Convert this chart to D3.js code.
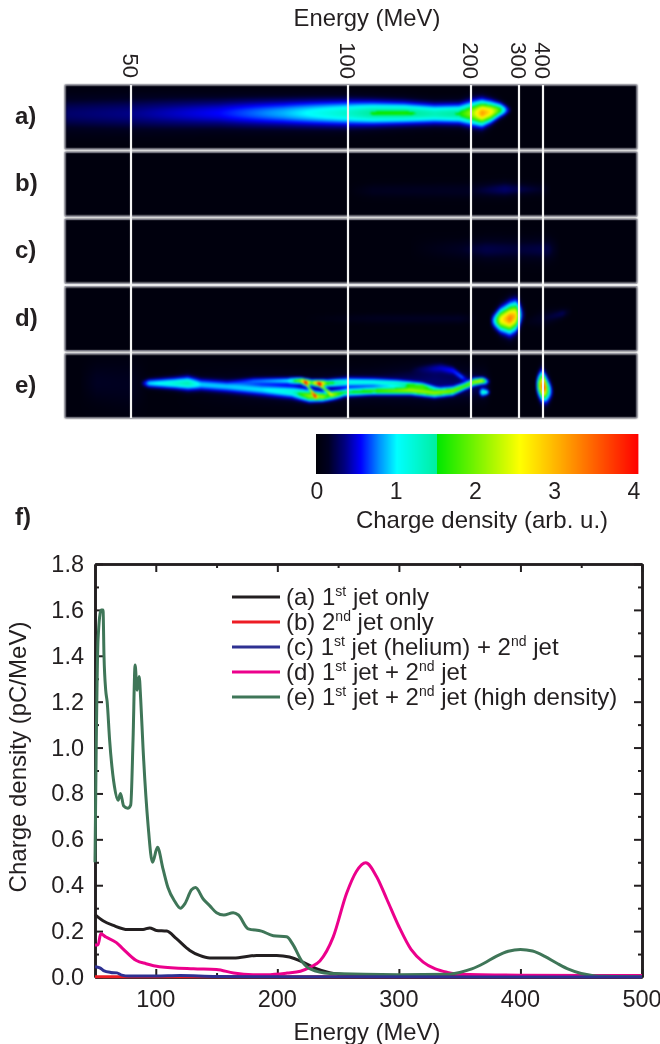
<!DOCTYPE html>
<html>
<head>
<meta charset="utf-8">
<script src="https://cdn.jsdelivr.net/npm/d3@7"></script>
<style>
	body { margin: 0; background: #fff; }
	#wrap { position: relative; width: 660px; height: 1044px; overflow: hidden; }
	canvas, svg { position: absolute; left: 0; top: 0; filter: blur(0.5px); }
	text { font-family: "Liberation Sans", Arial, sans-serif; fill: #231f20; }
</style>
</head>
<body>
<div id="wrap"></div>
<script>
// spectrometer energy ticks, the scale is not linear so the ticks set it
const energyTicks = [50, 100, 200, 300, 400];
const panelNames = ['a)', 'b)', 'c)', 'd)', 'e)'];
const colorbarTicks = [0, 1, 2, 3, 4];

// colormap stops, there is a hard step at 1.5
const colorStops = [0, 0.15, 0.35, 0.55, 0.78, 1, 1.5, 1.5, 2.53, 3, 4];
const colorValues = ['#000008', '#000022', '#000080', '#0000ff', '#0090ff', '#00ffff', '#00eea0', '#00e800', '#ffff00', '#ffb000', '#ff0000'];

// streaks on the screens: [energy, height in panel 0-1, spread, level]
const streaksA = [
	[[35, .45, .17, .27], [50, .45, .17, .33], [70, .44, .15, .52], [85, .44, .14, .82], [100, .44, .13, 1.25], [120, .44, .12, 1.5], [145, .44, .11, 1.55], [170, .45, .1, 1.35], [190, .45, .1, 1.5], [205, .44, .12, 2.2], [222, .44, .12, 3.1], [240, .42, .1, 2.6], [260, .39, .07, 1.6], [275, .39, .05, .5], [285, .39, .03, 0]],
];
const streaksB = [
	[[100, .6, .06, 0], [120, .6, .07, .1], [200, .6, .08, .12], [270, .58, .08, .27], [300, .58, .07, .2], [400, .58, .06, .12], [430, .58, .05, 0]],
];
const streaksC = [
	[[150, .45, .1, 0], [190, .47, .1, .12], [230, .47, .12, .2], [300, .47, .12, .17], [420, .47, .12, .2], [470, .47, .1, 0]],
];
const streaksD = [
	[[238, .53, .06, 0], [248, .53, .08, 1], [260, .52, .11, 2.4], [280, .5, .14, 3.3], [292, .46, .14, 2.8], [302, .44, .12, 1.1], [312, .44, .1, .35], [330, .44, .08, 0]],
	[[330, .55, .05, .05], [400, .5, .08, .14], [480, .42, .05, .22], [520, .38, .04, 0]],
	[[90, .5, .04, 0], [120, .5, .05, .1], [190, .5, .05, .13], [215, .5, .05, 0]],
];
const streaksE = [
	// long branch from the low energy end
	[[52, .46, .03, 0], [54, .46, .045, .9], [60, .46, .06, 1.2], [63, .46, .07, 1.35], [66, .48, .06, .85], [72, .51, .06, .8], [80, .56, .06, .8], [87, .6, .06, 1], [91, .66, .055, 1.9], [94, .67, .045, 2], [97, .66, .04, .8], [99, .66, .03, 0]],
	// upper branch with the two hot spots
	[[72, .44, .03, 0], [78, .42, .035, .5], [86, .42, .035, .8], [89, .42, .03, 2], [89.9, .44, .03, 3.6], [91.5, .45, .03, 1.6], [93.1, .46, .03, 3.6], [95, .46, .035, 1.5], [100, .44, .045, .95], [120, .44, .04, .9], [140, .46, .035, 1], [160, .5, .03, 1.3], [175, .55, .02, 0]],
	// the two diagonals between the branches
	[[90, .44, .02, 2.2], [91, .54, .02, 1.7], [92.3, .66, .025, 2.4], [93, .68, .02, 0]],
	[[93, .46, .02, 2], [94.5, .55, .02, 1.7], [96, .63, .025, 1.8]],
	// lower branch up to the end near 220 MeV
	[[96, .63, .03, 1.3], [100, .6, .04, 1.3], [120, .58, .038, 1.5], [150, .57, .04, 1.9], [170, .61, .042, 1.9], [185, .58, .04, 1.8], [195, .5, .035, 1.5], [205, .44, .035, 1.9], [222, .42, .03, 2.2], [232, .43, .03, .6], [240, .43, .02, 0]],
	[[150, .25, .04, 0], [175, .22, .05, .3], [185, .26, .04, .42], [192, .36, .03, .5], [198, .42, .03, 0]],
	[[60, .5, .2, 0], [90, .55, .15, .2], [120, .5, .16, .22], [170, .45, .2, .28], [230, .5, .15, .22], [245, .5, .1, 0]],
	[[215, .6, .03, 0], [222, .6, .04, 1.1], [232, .6, .03, .9], [240, .6, .02, 0]],
	// spot near 400 MeV
	[[366, .48, .08, 0], [378, .49, .11, 1.4], [392, .5, .13, 3.2], [402, .52, .12, 3.9], [415, .56, .12, 1.8], [432, .58, .09, .6], [445, .6, .05, 0]],
	[[38, .45, .2, 0], [42, .45, .2, .12], [50, .5, .25, .1], [54, .5, .2, 0]],
];
const panelStreaks = [streaksA, streaksB, streaksC, streaksD, streaksE];

// line plot (f)
const legendLabels = [
	[['(a) 1'], ['st', 1], [' jet only']],
	[['(b) 2'], ['nd', 1], [' jet only']],
	[['(c) 1'], ['st', 1], [' jet (helium) + 2'], ['nd', 1], [' jet']],
	[['(d) 1'], ['st', 1], [' jet + 2'], ['nd', 1], [' jet']],
	[['(e) 1'], ['st', 1], [' jet + 2'], ['nd', 1], [' jet (high density)']],
];
const seriesColors = ['#231f20', '#ed1c24', '#2e3192', '#ec008c', '#3f7658'];

const energyLineA = [50, 56.6, 65, 77, 89.5, 95, 100.5, 109, 117, 128, 136, 144.5, 164, 183, 199.5, 210, 221, 232, 243, 260, 300, 400, 500];
const chargeLineA = [.272, .245, .225, .207, .207, .214, .203, .2, .167, .116, .094, .083, .083, .094, .094, .087, .065, .036, .019, .01, .005, .001, 0];
const energyLineB = [50, 100, 200, 300, 400, 500];
const chargeLineB = [.001, .001, .001, .001, .001, .001];
const energyLineC = [50, 54, 57, 63, 68, 72, 78, 100, 120, 150, 250, 500];
const chargeLineC = [.045, .04, .028, .02, .018, .008, .004, .004, .006, .002, .001, 0];
const energyLineD = [50, 52.5, 54.7, 59, 67.6, 73, 84, 92, 103, 131, 150, 164, 180, 191, 208, 219, 227, 235, 246, 257, 265, 272.7, 281.7, 290, 300, 310, 320, 330, 340, 350, 400, 500];
const chargeLineD = [.14, .14, .188, .174, .15, .123, .072, .058, .045, .036, .033, .017, .01, .01, .017, .025, .043, .07, .175, .365, .46, .498, .437, .34, .22, .12, .065, .035, .02, .012, .008, .006];
const energyLineE = [50, 51, 52.5, 55, 56.6, 57.4, 58.8, 60, 62, 66, 69, 71, 73.6, 77, 79.4, 81.3, 83, 84.6, 86.3, 87.6, 89.5, 93.7, 97.3, 101.4, 106, 110, 115.6, 120.3, 124, 129.4, 132.7, 139, 144.5, 150, 156, 163.7, 168, 176, 187, 196.7, 207.7, 213, 220, 227, 243, 300, 340, 350, 360, 370, 380, 390, 400, 410, 420, 430, 440, 450, 460, 470, 500];
const chargeLineE = [.5, 1, 1.47, 1.6, 1.6, 1.4, 1.25, 1.2, 1.035, .83, .77, .8, .745, .735, .75, 1.035, 1.36, 1.25, 1.31, 1.21, 1, .66, .5, .565, .47, .39, .33, .3, .32, .38, .39, .34, .31, .28, .27, .28, .27, .21, .2, .18, .175, .14, .07, .035, .015, .01, .012, .02, .035, .06, .09, .112, .12, .113, .09, .06, .033, .015, .006, .003, .001];
const lineSeries = [
	[energyLineA, chargeLineA],
	[energyLineB, chargeLineB],
	[energyLineD, chargeLineD],
	[energyLineE, chargeLineE],
	[energyLineC, chargeLineC],
];
const lineColors = [seriesColors[0], seriesColors[1], seriesColors[3], seriesColors[4], seriesColors[2]];

const width = 660;
const height = 1044;
const wrap = d3.select('#wrap');
const canvas = wrap.append('canvas').attr('width', width).attr('height', height);
const svg = wrap.append('svg').attr('width', width).attr('height', height);

const colorScale = d3.scaleLinear().domain(colorStops).range(colorValues).clamp(true);

// --- screens a) to e) ---
const screenX = d3.scaleLinear().domain(energyTicks).range([131, 348, 471, 519, 543]);
const screenLeft = 65;
const screenRight = 637;
const screenY = d3.scaleBand().domain(panelNames).range([85, 418]).paddingInner(0.045);

// field value for one column of one panel
function columnStreaks(streaks, x) {
	const found = [];
	streaks.forEach((rows) => {
		const xs = rows.map((r) => screenX(r[0]));
		if (x < xs[0] || x > xs[xs.length - 1]) return;
		const at = (k) => d3.scaleLinear().domain(xs).range(rows.map((r) => r[k]))(x);
		found.push([at(1), at(2), at(3)]);
	});
	return found;
}

const ctx = canvas.node().getContext('2d');
ctx.filter = 'blur(0.9px)';
panelNames.forEach((name, p) => {
	const w = screenRight - screenLeft;
	const h = Math.round(screenY.bandwidth());
	const off = document.createElement('canvas');
	off.width = w;
	off.height = h;
	const octx = off.getContext('2d');
	const img = octx.createImageData(w, h);
	for (let i = 0; i < w; i++) {
		const col = columnStreaks(panelStreaks[p], screenLeft + i);
		for (let j = 0; j < h; j++) {
			const v = (j + 0.5) / h;
			const value = 0.03 + d3.sum(col, (c) => c[2] * Math.exp(-((v - c[0]) ** 2) / (2 * c[1] * c[1])));
			const c = d3.rgb(colorScale(value));
			const k = (j * w + i) * 4;
			img.data[k] = c.r;
			img.data[k + 1] = c.g;
			img.data[k + 2] = c.b;
			img.data[k + 3] = 255;
		}
	}
	octx.putImageData(img, 0, 0);
	ctx.drawImage(off, screenLeft, screenY(name));
});
ctx.filter = 'none';

// panel edges and the energy lines
svg.append('g')
	.selectAll('rect')
	.data(panelNames)
	.join('rect')
	.attr('x', screenLeft)
	.attr('y', (d) => screenY(d))
	.attr('width', screenRight - screenLeft)
	.attr('height', Math.round(screenY.bandwidth()))
	.attr('fill', 'none')
	.attr('stroke', '#8d8d9c')
	.attr('stroke-width', 0.6);

svg.append('g')
	.selectAll('line')
	.data(energyTicks)
	.join('line')
	.attr('x1', (d) => screenX(d))
	.attr('x2', (d) => screenX(d))
	.attr('y1', 85)
	.attr('y2', 418)
	.attr('stroke', '#f4f4f4')
	.attr('stroke-width', 2.2);

svg.append('g')
	.selectAll('text')
	.data(energyTicks)
	.join('text')
	.attr('transform', (d) => `translate(${screenX(d) - 8},${d === 50 ? 78 : 79}) rotate(90)`)
	.attr('text-anchor', 'end')
	.attr('font-size', 22)
	.text((d) => d);

svg.append('text')
	.attr('x', 367)
	.attr('y', 26)
	.attr('text-anchor', 'middle')
	.attr('font-size', 23.8)
	.text('Energy (MeV)');

svg.append('g')
	.selectAll('text')
	.data(panelNames)
	.join('text')
	.attr('x', 15)
	.attr('y', (d) => screenY(d) + 39)
	.attr('font-size', 24)
	.attr('font-weight', 'bold')
	.text((d) => d);

svg.append('text')
	.attr('x', 15)
	.attr('y', 525)
	.attr('font-size', 24)
	.attr('font-weight', 'bold')
	.text('f)');

// --- colorbar ---
const barX = d3.scaleLinear().domain([0, 4]).range([316, 638]);
svg.append('g')
	.selectAll('rect')
	.data(d3.range(0, 4, 4 / 322))
	.join('rect')
	.attr('x', (d) => barX(d))
	.attr('y', 434)
	.attr('width', 1.4)
	.attr('height', 40)
	.attr('fill', (d) => colorScale(d));

const barLabelX = d3.scaleLinear().domain([0, 4]).range([317, 634]);
svg.append('g')
	.selectAll('text')
	.data(colorbarTicks)
	.join('text')
	.attr('x', (d) => barLabelX(d))
	.attr('y', 499)
	.attr('text-anchor', 'middle')
	.attr('font-size', 23)
	.text((d) => d);

svg.append('text')
	.attr('x', 482)
	.attr('y', 528)
	.attr('text-anchor', 'middle')
	.attr('font-size', 24)
	.text('Charge density (arb. u.)');

// --- line plot f) ---
const x = d3.scaleLinear().domain([50, 500]).range([95, 642]);
const y = d3.scaleLinear().domain([0, 1.8]).range([977, 564]);
const xMajor = d3.range(100, 501, 100);
const xMinor = d3.range(50, 500, 100).slice(1);
const yMajor = d3.range(0, 10).map((d) => d * 0.2);
const yMinor = d3.range(0, 9).map((d) => d * 0.2 + 0.1);

function drawTicks(axis, tickLength, values, translate) {
	svg.append('g')
		.attr('transform', translate)
		.call(axis.tickValues(values).tickSize(tickLength).tickSizeOuter(0).tickFormat(''))
		.call((g) => g.selectAll('.tick line').attr('stroke', '#231f20').attr('stroke-width', 2))
		.call((g) => g.select('.domain').attr('stroke', '#231f20').attr('stroke-width', 2.6));
}
drawTicks(d3.axisBottom(x), -8, xMajor, 'translate(0,977)');
drawTicks(d3.axisBottom(x), -4, xMinor, 'translate(0,977)');
drawTicks(d3.axisTop(x), -8, xMajor, 'translate(0,564)');
drawTicks(d3.axisTop(x), -4, xMinor, 'translate(0,564)');
drawTicks(d3.axisLeft(y), -8, yMajor, 'translate(95,0)');
drawTicks(d3.axisLeft(y), -4, yMinor, 'translate(95,0)');
drawTicks(d3.axisRight(y), -8, yMajor, 'translate(642,0)');
drawTicks(d3.axisRight(y), -4, yMinor, 'translate(642,0)');

svg.append('g')
	.selectAll('text')
	.data(yMajor)
	.join('text')
	.attr('x', 84)
	.attr('y', (d) => y(d) + 8)
	.attr('text-anchor', 'end')
	.attr('font-size', 23.5)
	.text((d) => d.toFixed(1));

svg.append('g')
	.selectAll('text')
	.data(xMajor)
	.join('text')
	.attr('x', (d) => x(d))
	.attr('y', 1007)
	.attr('text-anchor', 'middle')
	.attr('font-size', 23.5)
	.text((d) => d);

svg.append('text')
	.attr('x', 367)
	.attr('y', 1040)
	.attr('text-anchor', 'middle')
	.attr('font-size', 23.8)
	.text('Energy (MeV)');

svg.append('text')
	.attr('transform', 'translate(26,757) rotate(-90)')
	.attr('text-anchor', 'middle')
	.attr('font-size', 24)
	.text('Charge density (pC/MeV)');

const line = d3
	.line()
	.x((d) => x(d[0]))
	.y((d) => y(d[1]))
	.curve(d3.curveMonotoneX);

svg.append('g')
	.selectAll('path')
	.data(lineSeries)
	.join('path')
	.attr('d', (d) => line(d3.zip(d[0], d[1])))
	.attr('fill', 'none')
	.attr('stroke', (d, i) => lineColors[i])
	.attr('stroke-width', 3)
	.attr('stroke-linejoin', 'round');

// legend
const legendY = d3.scalePoint().domain(d3.range(5)).range([597, 697]);
const legend = svg
	.append('g')
	.selectAll('g')
	.data(legendLabels)
	.join('g')
	.attr('transform', (d, i) => `translate(0,${legendY(i)})`);

legend
	.append('line')
	.attr('x1', 232)
	.attr('x2', 280)
	.attr('stroke', (d, i) => seriesColors[i])
	.attr('stroke-width', 3);

legend
	.append('text')
	.attr('x', 286)
	.attr('y', 8)
	.attr('font-size', 24)
	.selectAll('tspan')
	.data((d) => d)
	.join('tspan')
	.attr('dy', (d, i) => {
		if (d[1]) return -9;
		return i > 0 ? 9 : 0;
	})
	.attr('font-size', (d) => (d[1] ? 14 : 24))
	.text((d) => d[0]);
</script>
</body>
</html>
